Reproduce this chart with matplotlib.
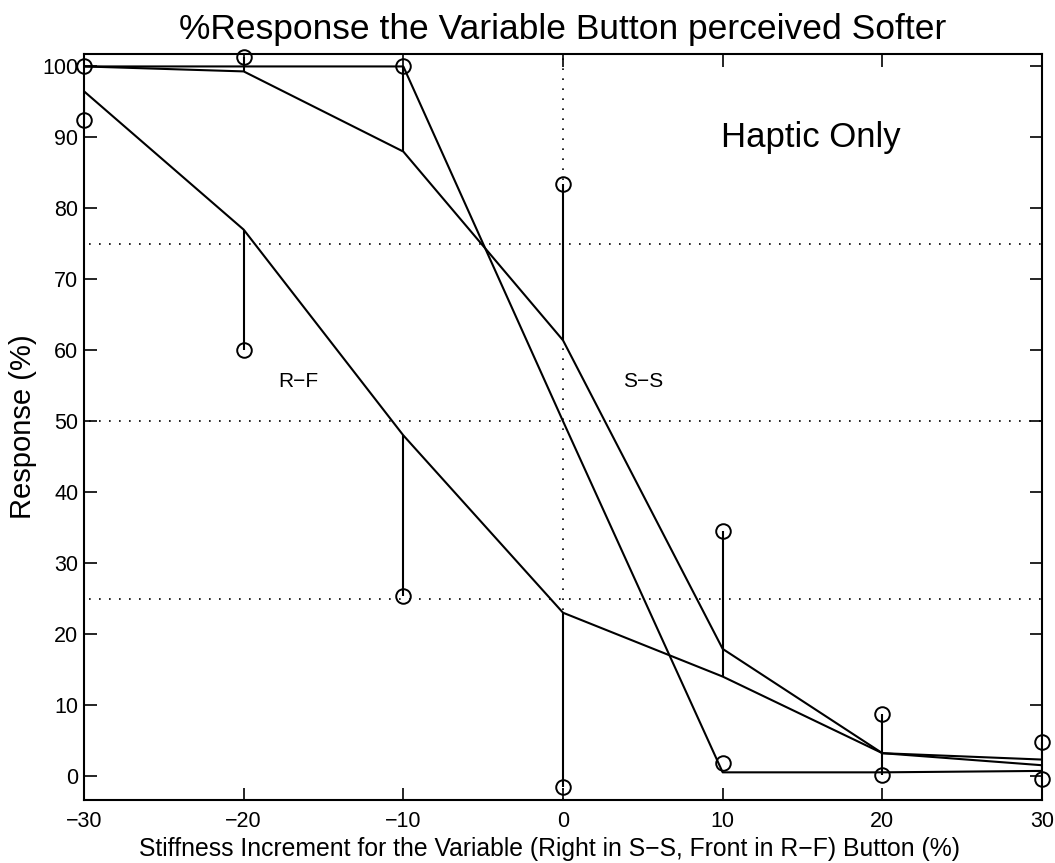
import matplotlib
matplotlib.use("Agg")
import matplotlib.pyplot as plt

plt.rcParams["font.family"] = ["Liberation Sans", "DejaVu Sans"]

# stiffness increments (%)
x_vals = [-30, -20, -10, 0, 10, 20, 30]

# fitted response curves (%)
curve_rf = [96.5, 77.0, 48.0, 23.0, 14.0, 3.2, 1.5]
curve_ss = [100.0, 99.3, 88.0, 61.4, 17.9, 3.2, 2.3]
curve_all = [100.0, 100.0, 100.0, 50.0, 0.5, 0.5, 0.7]

# observed responses (%)
obs_upper = [100.0, 101.4, 100.0, 83.4, 34.5, 8.7, 4.8]
obs_lower = [92.5, 60.0, 25.3, -1.5, 1.8, 0.1, -0.5]

# where each observation's stem meets a curve
upper_stem_end = [100.0, 99.3, 88.0, 61.4, 14.0, 3.2, 2.3]
lower_stem_end = [96.5, 77.0, 48.0, 23.0, 1.8, 3.2, 1.5]

ref_levels = [25, 50, 75]

fig = plt.figure(figsize=(10.55, 8.63), dpi=100)
ax = fig.add_axes([0.0796, 0.0730, 0.9081, 0.8644])

for lvl in ref_levels:
    ax.axhline(lvl, color="black", lw=1.2, linestyle=(3, (1, 5)), zorder=1)
ax.axvline(0, color="black", lw=1.2, linestyle=(0, (1, 5)), zorder=1)

for curve in (curve_rf, curve_ss, curve_all):
    ax.plot(x_vals, curve, color="black", lw=1.5, zorder=3)

ax.vlines(x_vals, obs_upper, upper_stem_end, color="black", lw=1.5, zorder=3)
ax.vlines(x_vals, obs_lower, lower_stem_end, color="black", lw=1.5, zorder=3)

for obs in (obs_upper, obs_lower):
    ax.plot(x_vals, obs, linestyle="none", marker="o", ms=10.5, mfc="none",
            mec="black", mew=1.4, clip_on=False, zorder=4)

ax.text(-16.6, 55.6, "R\u2212F", fontsize=15, ha="center", va="center")
ax.text(5.0, 55.6, "S\u2212S", fontsize=15, ha="center", va="center")
ax.text(15.5, 90.0, "Haptic Only", fontsize=25, ha="center", va="center")

ax.set_xlim(-30, 30)
ax.set_ylim(-3.4, 101.75)
ax.set_xticks(x_vals)
ax.set_yticks(range(0, 101, 10))
ax.tick_params(direction="in", length=9, width=1.2, top=True, right=True,
               labelsize=15.5)
ax.tick_params(axis="x", pad=8)
ax.tick_params(axis="y", pad=4)
for side in ax.spines.values():
    side.set_linewidth(1.5)

ax.set_xlabel("Stiffness Increment for the Variable (Right in S\u2212S, Front in R\u2212F) Button (%)",
              fontsize=17.8)
ax.xaxis.set_label_coords(0.486, -0.049)
ax.set_ylabel("Response (%)", fontsize=21, labelpad=4)
ax.set_title("%Response the Variable Button perceived Softer", fontsize=25.5, pad=11)

fig.savefig("out.png", dpi=100)
